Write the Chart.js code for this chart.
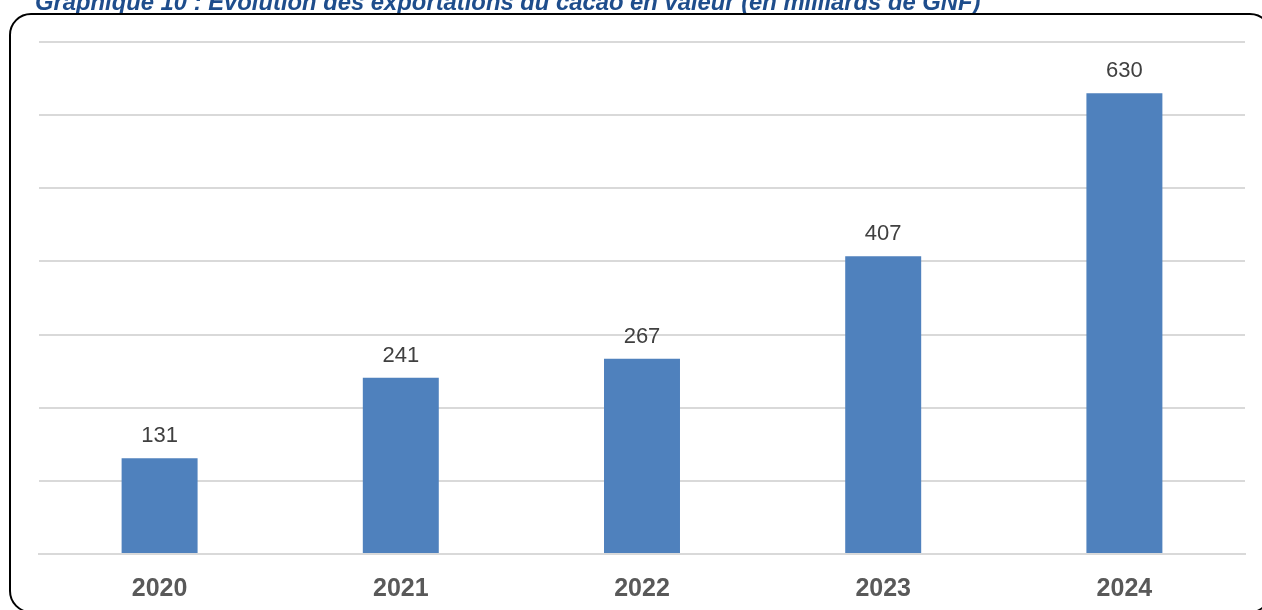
<!DOCTYPE html>
<html>
<head>
<meta charset="utf-8">
<script src="https://cdn.jsdelivr.net/npm/chart.js@4/dist/chart.umd.min.js"></script>
<style>
  html, body { margin: 0; padding: 0; background: #ffffff; overflow: hidden; }
  #wrap { position: relative; width: 1262px; height: 610px; }
  #frame { position: absolute; left: 9px; top: 13px; width: 1259px; height: 596px;
           border: 2px solid #000; border-radius: 22px; pointer-events: none; }
</style>
</head>
<body>
<div id="wrap">
  <canvas id="c" width="1262" height="610"></canvas>
  <div id="frame"></div>
</div>
<script>
const chartTitle = "Graphique 10 : Evolution des exportations du cacao en valeur (en milliards de GNF)";
const categories = ["2020", "2021", "2022", "2023", "2024"];
const exportValues = [131, 241, 267, 407, 630];
const yTicks = [0, 100, 200, 300, 400, 500, 600, 700];

const titlePlugin = {
  id: 'topTitle',
  afterDraw(chart) {
    const ctx = chart.ctx;
    ctx.save();
    ctx.font = 'italic bold 23.8px "Liberation Sans", Arial, sans-serif';
    ctx.fillStyle = '#1E4D8C';
    ctx.textBaseline = 'alphabetic';
    ctx.textAlign = 'left';
    ctx.fillText(chartTitle, 35, 10);
    ctx.restore();
  }
};

const labelPlugin = {
  id: 'barLabels',
  afterDatasetsDraw(chart) {
    const ctx = chart.ctx;
    const meta = chart.getDatasetMeta(0);
    ctx.save();
    ctx.font = '22px "Liberation Sans", Arial, sans-serif';
    ctx.fillStyle = '#404040';
    ctx.textAlign = 'center';
    ctx.textBaseline = 'alphabetic';
    meta.data.forEach((bar, i) => {
      ctx.fillText(String(exportValues[i]), bar.x, bar.y - 16);
    });
    ctx.restore();
  }
};

new Chart(document.getElementById('c'), {
  type: 'bar',
  data: {
    labels: categories,
    datasets: [{
      data: exportValues,
      backgroundColor: '#4F81BD',
      borderWidth: 0,
      barPercentage: 0.315,
      categoryPercentage: 1.0
    }]
  },
  options: {
    responsive: false,
    animation: false,
    devicePixelRatio: 1,
    layout: { padding: { left: 39, right: 17, top: 42, bottom: -14 } },
    plugins: { legend: { display: false }, tooltip: { enabled: false }, title: { display: false } },
    scales: {
      x: {
        grid: { display: false, drawTicks: false },
        border: { display: true, color: '#D9D9D9', width: 2 },
        ticks: {
          color: '#595959',
          font: { family: '"Liberation Sans", Arial, sans-serif', size: 25, weight: 'bold' },
          padding: 20
        }
      },
      y: {
        min: 0, max: 700,
        afterBuildTicks(scale) { scale.ticks = yTicks.map(v => ({ value: v })); },
        grid: { color: '#D9D9D9', lineWidth: 2, drawTicks: false },
        border: { display: false },
        ticks: { display: false }
      }
    }
  },
  plugins: [titlePlugin, labelPlugin]
});
</script>
</body>
</html>
